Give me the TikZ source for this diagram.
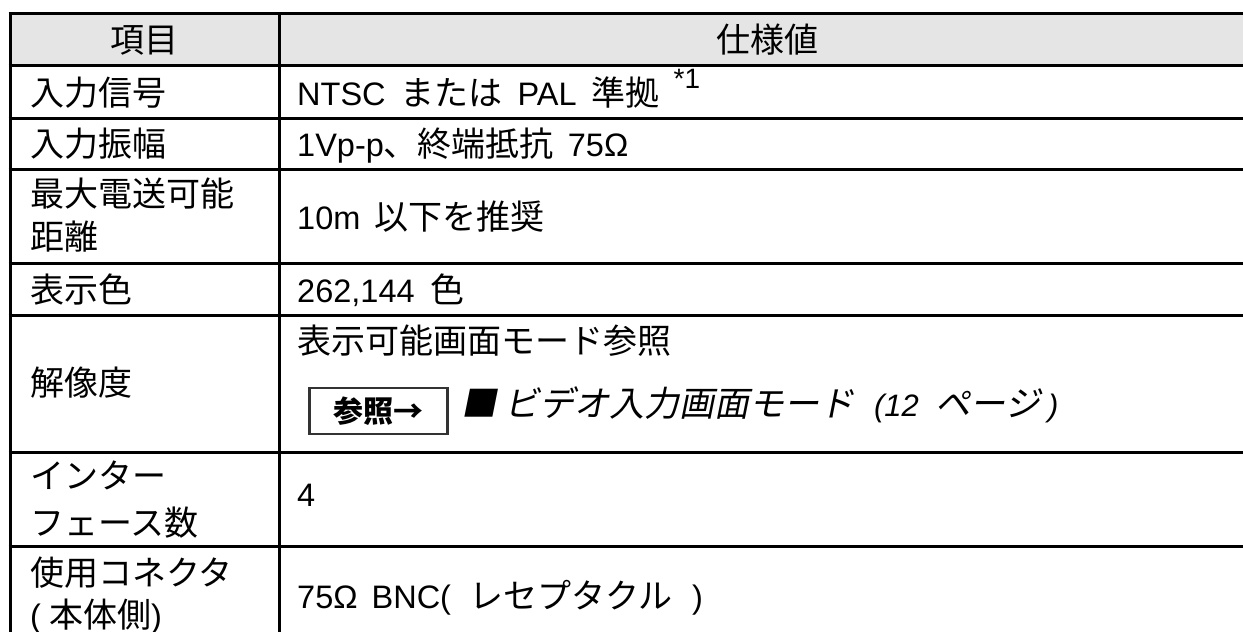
\documentclass[tikz,border=0pt]{standalone}
\usepackage{fontspec}
\setmainfont{Liberation Sans}
\newfontfamily\cjk{Noto Sans CJK JP}
\newfontfamily\cjki[FakeSlant=0.2]{Noto Sans CJK JP}
\newfontfamily\lati{Liberation Sans Italic}
\newcommand{\J}[1]{{\cjk\fontsize{34}{38}\selectfont #1}}
\newcommand{\JI}[1]{{\cjki\fontsize{35}{38}\selectfont #1}}
\newcommand{\gp}[1]{\hspace*{#1pt}}
\tikzset{
  rule/.style={line width=3pt,black},
  txt/.style={anchor=west,inner sep=0pt,text height=26pt,text depth=0pt,font=\fontsize{32.5}{36}\selectfont},
  head/.style={txt,anchor=center}
}
\begin{document}
\begin{tikzpicture}[x=1pt,y=-1pt]
\useasboundingbox (0,0) rectangle (1243,632);
\fill[black!10] (9,13) rectangle (1243,65);
\foreach \y in {13.5,65.5,118,169,263,315,452,546}{\draw[rule] (8.5,\y) -- (1243,\y);}
\foreach \x in {10,279}{\draw[rule] (\x,12) -- (\x,632);}
\node[head] (h1) at (144,39) {\J{項目}};
\node[head] (h2) at (767,39) {\J{仕様値}};
\node[txt] (a1) at (30,92) {\J{入力信号}};
\node[txt] (a2) at (30,143) {\J{入力振幅}};
\node[txt] (a3) at (30,193) {\J{最大電送可能}};
\node[txt] (a3b) at (30,236) {\J{距離}};
\node[txt] (a4) at (30,289) {\J{表示色}};
\node[txt] (a5) at (30,382) {\J{解像度}};
\node[txt] (a6) at (30,475) {\J{インター}};
\node[txt] (a6b) at (30,522) {\J{フェース数}};
\node[txt] (a7) at (30,572) {\J{使用コネクタ}};
\node[txt] (a7b) at (30,614) {(\gp{8}\J{本体側})};
\node[txt] (b1) at (297,92) {NTSC\gp{15}\J{または}\gp{15}PAL\gp{15}\J{準拠}\gp{14}\raisebox{17pt}{\fontsize{28}{30}\selectfont *1}};
\node[txt] (b2) at (297,143) {1Vp-p\J{、終端抵抗}\gp{14}75Ω};
\node[txt] (b3) at (297,216) {10m\gp{14}\J{以下を推奨}};
\node[txt] (b4) at (297,289) {262,144\gp{16}\J{色}};
\node[txt] (b5) at (297,340) {\J{表示可能画面モード参照}};
\node[draw=black!80,line width=2.5pt,minimum width=138pt,minimum height=46pt,inner sep=0pt,fill=white,anchor=west,font=\fontsize{30}{34}\selectfont\bfseries] (ref) at (308,411) {{\cjk 参照→}};
\node[txt] (b5b) at (461,403) {\JI{■ ビデオ入力画面モード}\gp{20}{\lati\fontsize{31}{34}\selectfont(12}\gp{17}\JI{ページ}{\lati\fontsize{31}{34}\selectfont\gp{8})}};
\node[txt] (b6) at (297,493) {4};
\node[txt] (b7) at (297,595) {75Ω\gp{14}BNC(\gp{18}\J{レセプタクル}\gp{20})};
\end{tikzpicture}
\end{document}
